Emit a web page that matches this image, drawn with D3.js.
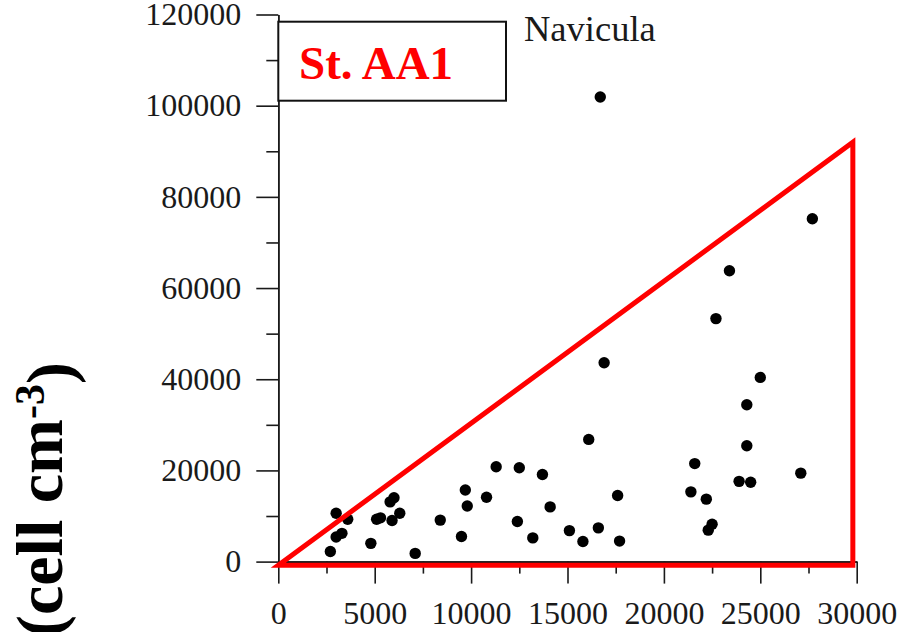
<!DOCTYPE html>
<html>
<head>
<meta charset="utf-8">
<script src="https://cdn.jsdelivr.net/npm/d3@7"></script>
<style>
  html, body { margin: 0; padding: 0; background: #fff; }
  svg { display: block; }
</style>
</head>
<body>
<div id="chart"></div>
<script>
// Datos (x, y)
const xValues = [2700, 3000, 3600, 3000, 3300, 4800, 5100, 5300, 5800, 6000,
                 6300, 5900, 7100, 8400, 9500, 9700, 9800, 10800, 11300, 12500,
                 12400, 13200, 13700, 14100, 15100, 15800, 16600, 17600, 17700, 16100,
                 16900, 16700, 21600, 21400, 22200, 22500, 22300, 22700, 23400, 23900,
                 24500, 24300, 24300, 25000, 27100, 27700];
const yValues = [2200, 10600, 9300, 5400, 6200, 4000, 9300, 9600, 13100, 14000,
                 10600, 9000, 1800, 9100, 5500, 15700, 12200, 14100, 20800, 20600,
                 8800, 5200, 19100, 12000, 6800, 4400, 7400, 14500, 4500, 26800,
                 43600, 101900, 21500, 15300, 13700, 8200, 6900, 53300, 63800, 17600,
                 17400, 25400, 34400, 40400, 19400, 75200];

// Triángulo rojo (coordenadas de datos)
const triangleX = [0, 29800, 29800];
const triangleY = [-800, 92000, -800];

const xMajorTicks = [0, 5000, 10000, 15000, 20000, 25000, 30000];
const xMinorTicks = [2500, 7500, 12500, 17500, 22500, 27500];
const yMajorTicks = [0, 20000, 40000, 60000, 80000, 100000, 120000];
const yMinorTicks = [10000, 30000, 50000, 70000, 90000, 110000];

const stationLabel = "St. AA1";
const speciesLabel = "Navicula";

const width = 902, height = 632;

const svg = d3.select("#chart").append("svg")
    .attr("width", width)
    .attr("height", height);

const xScale = d3.scaleLinear().domain([0, 30000]).range([278.3, 856.7]);
const yScale = d3.scaleLinear().domain([0, 120000]).range([561.6, 14.5]);

const font = "'Liberation Serif', 'Times New Roman', serif";

// Ejes: ticks menores sin etiqueta
svg.append("g")
    .attr("transform", `translate(${xScale(0)},0)`)
    .call(d3.axisLeft(yScale).tickValues(yMinorTicks).tickSize(12).tickSizeOuter(0).tickFormat(""));
svg.append("g")
    .attr("transform", `translate(0,${yScale(0)})`)
    .call(d3.axisBottom(xScale).tickValues(xMinorTicks).tickSize(12).tickSizeOuter(0).tickFormat(""));

// Ejes principales
svg.append("g")
    .attr("transform", `translate(${xScale(0)},0)`)
    .call(d3.axisLeft(yScale).tickValues(yMajorTicks).tickSize(22).tickSizeOuter(0).tickPadding(15).tickFormat(d3.format("d")));
svg.append("g")
    .attr("transform", `translate(0,${yScale(0)})`)
    .call(d3.axisBottom(xScale).tickValues(xMajorTicks).tickSize(22).tickSizeOuter(0).tickPadding(18).tickFormat(d3.format("d")));

svg.selectAll(".domain, .tick line")
    .attr("stroke", "#1a1a1a")
    .attr("stroke-width", 1.6);
svg.selectAll(".tick text")
    .attr("fill", "#1a1a1a")
    .style("font-family", font)
    .style("font-size", "32px");

// Puntos
const points = xValues.map((x, i) => ({ x: x, y: yValues[i] }));
svg.append("g")
    .selectAll("circle")
    .data(points)
    .enter()
    .append("circle")
    .attr("cx", d => xScale(d.x))
    .attr("cy", d => yScale(d.y))
    .attr("r", 5.7)
    .attr("fill", "#000");

// Triángulo rojo
const tri = triangleX.map((x, i) => [xScale(x), yScale(triangleY[i])]);
svg.append("path")
    .attr("d", d3.line()(tri) + "Z")
    .attr("fill", "none")
    .attr("stroke", "#ff0000")
    .attr("stroke-width", 5)
    .attr("stroke-linejoin", "miter");

// Recuadro de la estación
svg.append("rect")
    .attr("x", 278.3)
    .attr("y", 21.7)
    .attr("width", 227.7)
    .attr("height", 79)
    .attr("fill", "#fff")
    .attr("stroke", "#111")
    .attr("stroke-width", 2);

svg.append("text")
    .attr("x", 299)
    .attr("y", 79)
    .style("font-family", font)
    .style("font-size", "47px")
    .style("font-weight", "bold")
    .attr("fill", "#ff0000")
    .text(stationLabel);

svg.append("text")
    .attr("x", 524)
    .attr("y", 41)
    .style("font-family", font)
    .style("font-size", "36.5px")
    .attr("fill", "#1a1a1a")
    .text(speciesLabel);

// Etiqueta del eje Y
const yLabel = svg.append("text")
    .attr("transform", "translate(62,362) rotate(-90)")
    .attr("text-anchor", "end")
    .style("font-family", font)
    .style("font-size", "66px")
    .style("font-weight", "bold")
    .attr("fill", "#000");
yLabel.append("tspan").text("(cell cm");
yLabel.append("tspan").attr("dy", "-0.42em").style("font-size", "42px").text("-3");
yLabel.append("tspan").attr("dy", "0.42em").text(")");
</script>
</body>
</html>
